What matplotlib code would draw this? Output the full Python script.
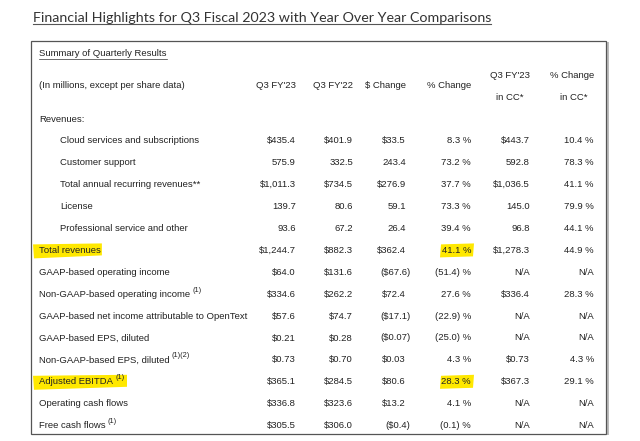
import matplotlib
matplotlib.use("Agg")
import matplotlib.pyplot as plt
from matplotlib.patches import Rectangle, Polygon

# table content
title = "Financial Highlights for Q3 Fiscal 2023 with Year Over Year Comparisons"
subtitle = "Summary of Quarterly Results"
unit_note = "(In millions, except per share data)"
col_headers = ["Q3 FY'23", "Q3 FY'22", "$ Change", "% Change"]
cc_headers = [("Q3 FY'23", "in CC*"), ("% Change", "in CC*")]

labels = ["Revenues:", "Cloud services and subscriptions", "Customer support",
          "Total annual recurring revenues**", "License", "Professional service and other",
          "Total revenues", "GAAP-based operating income", "Non-GAAP-based operating income",
          "GAAP-based net income attributable to OpenText", "GAAP-based EPS, diluted",
          "Non-GAAP-based EPS, diluted", "Adjusted EBITDA", "Operating cash flows",
          "Free cash flows"]
indented = [0, 1, 1, 1, 1, 1, 0, 0, 0, 0, 0, 0, 0, 0, 0]
notes = ["", "", "", "", "", "", "", "", "(1)", "", "", "(1)(2)", "(1)", "", "(1)"]

q3_fy23 = ["", "$435.4", "575.9", "$1,011.3", "139.7", "93.6", "$1,244.7", "$64.0",
           "$334.6", "$57.6", "$0.21", "$0.73", "$365.1", "$336.8", "$305.5"]
q3_fy22 = ["", "$401.9", "332.5", "$734.5", "80.6", "67.2", "$882.3", "$131.6",
           "$262.2", "$74.7", "$0.28", "$0.70", "$284.5", "$323.6", "$306.0"]
dollar_chg = ["", "$33.5", "243.4", "$276.9", "59.1", "26.4", "$362.4", "($67.6)",
              "$72.4", "($17.1)", "($0.07)", "$0.03", "$80.6", "$13.2", "($0.4)"]
pct_chg = ["", "8.3 %", "73.2 %", "37.7 %", "73.3 %", "39.4 %", "41.1 %", "(51.4) %",
           "27.6 %", "(22.9) %", "(25.0) %", "4.3 %", "28.3 %", "4.1 %", "(0.1) %"]
q3_cc = ["", "$443.7", "592.8", "$1,036.5", "145.0", "96.8", "$1,278.3", "N/A",
         "$336.4", "N/A", "N/A", "$0.73", "$367.3", "N/A", "N/A"]
pct_cc = ["", "10.4 %", "78.3 %", "41.1 %", "79.9 %", "44.1 %", "44.9 %", "N/A",
          "28.3 %", "N/A", "N/A", "4.3 %", "29.1 %", "N/A", "N/A"]

highlight_rows = ["Total revenues", "Adjusted EBITDA"]

fig = plt.figure(figsize=(6.4, 4.41), dpi=100, facecolor="white")
ax = fig.add_axes([0, 0, 1, 1])
ax.set_xlim(0, 640)
ax.set_ylim(441, 0)
ax.axis("off")

body = dict(family="Liberation Sans", fontsize=6.8, color="#222222")

# title, underlined
t = ax.text(33, 18, title, family="Lato", fontsize=10.3, color="#333333", va="center")
fig.canvas.draw()
bb = t.get_window_extent().transformed(ax.transData.inverted())
ax.plot([bb.x0, bb.x1], [23.5, 23.5], color="#555555", lw=0.8)

# box with a light shadow
ax.add_patch(Rectangle((607, 42), 1.5, 393, color="#bbbbbb", lw=0))
ax.add_patch(Rectangle((31, 41), 575, 393, fill=False, edgecolor="#555555", lw=0.9))

s = ax.text(39, 54, subtitle, va="center", **body)
fig.canvas.draw()
bb = s.get_window_extent().transformed(ax.transData.inverted())
ax.plot([bb.x0, bb.x1], [58.5, 58.5], color="#333333", lw=0.5)

ax.text(39, 86, unit_note, va="center", **body)

col_right = [296, 353, 406, 471, 530, 594]
header_y = 86
for x, h in zip(col_right[:4], col_headers):
    ax.text(x, header_y, h, ha="right", va="center", **body)
for x, (h1, h2) in zip(col_right[4:], cc_headers):
    ax.text(x, 75, h1, ha="right", va="center", **body)
    ax.text(x - 7, 98, h2, ha="right", va="center", **body)

row_y0 = 119
row_step = 21.9
columns = [q3_fy23, q3_fy22, dollar_chg, pct_chg, q3_cc, pct_cc]

for i, lab in enumerate(labels):
    y = row_y0 + i * row_step
    x = 60 if indented[i] else 39
    tl = ax.text(x, y, lab, va="center", zorder=3, **body)
    if notes[i]:
        ax.annotate(notes[i], xy=(1, 0.55), xycoords=tl, xytext=(1.5, 0),
                    textcoords="offset points", va="bottom", ha="left",
                    family="Liberation Sans", fontsize=5.3, color="#222222")
    for c, col in enumerate(columns):
        v = col[i]
        if not v:
            continue
        xr = col_right[c]
        if v.endswith(")"):
            xr += 4.5
        ax.text(xr, y, v, ha="right", va="center", zorder=3, **body)

# yellow marker strokes
yellow = "#ffe800"
for lab in highlight_rows:
    i = labels.index(lab)
    y = row_y0 + i * row_step
    tl = [t for t in ax.texts if t.get_text() == lab][0]
    fig.canvas.draw()
    bb = tl.get_window_extent().transformed(ax.transData.inverted())
    x1 = bb.x1 + (14 if lab == "Adjusted EBITDA" else 1)
    ax.add_patch(Polygon([(bb.x0 - 6, y - 6), (x1, y - 7), (x1, y + 5), (bb.x0 - 5, y + 8)],
                         closed=True, color=yellow, lw=0, zorder=1))
    ax.add_patch(Polygon([(441, y - 6), (474, y - 7), (473, y + 6), (440, y + 7)],
                         closed=True, color=yellow, lw=0, zorder=1))

fig.savefig("out.png", dpi=100, facecolor="white")
